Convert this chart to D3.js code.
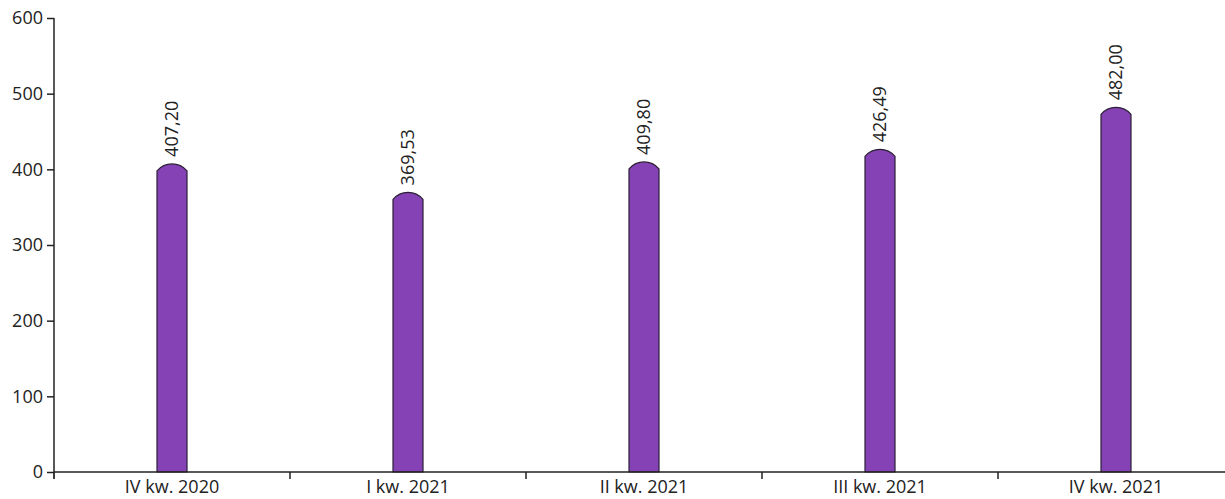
<!DOCTYPE html>
<html><head><meta charset="utf-8">
<script src="https://cdn.jsdelivr.net/npm/d3@7"></script>
<style>
body{margin:0;background:#fff;}
text{font-family:"Open Sans",sans-serif;fill:#222;}
</style></head>
<body><svg id="c" width="1225" height="499"></svg>
<script>
const categories = ["IV kw. 2020","I kw. 2021","II kw. 2021","III kw. 2021","IV kw. 2021"];
const values = [407.20, 369.53, 409.80, 426.49, 482.00];
const yTicks = [0,100,200,300,400,500,600];

const svg = d3.select("#c");
const x = d3.scaleBand().domain(categories).range([54, 1234]).padding(0);
const y = d3.scaleLinear().domain([0,600]).range([472, 18]);

const barW = 30, cap = 7;
const r = ((barW/2)**2 + cap*cap) / (2*cap);
const fmt = v => v.toFixed(2).replace(".", ",");

// bars
svg.append("g").selectAll("path").data(values).join("path")
  .attr("d", (v,i) => {
    const cx = x(categories[i]) + x.bandwidth()/2;
    const x0 = cx - barW/2, x1 = cx + barW/2;
    const top = y(v), side = top + cap, base = y(0);
    return `M${x0},${base}L${x0},${side}A${r},${r} 0 0 1 ${x1},${side}L${x1},${base}Z`;
  })
  .attr("fill","#8442b5").attr("stroke","#2b1f35").attr("stroke-width",1.2);

// labels
svg.append("g").selectAll("text").data(values).join("text")
  .attr("transform",(v,i)=>`translate(${x(categories[i]) + x.bandwidth()/2},${y(v)-7}) rotate(-90)`)
  .attr("dy","0.35em").attr("text-anchor","start")
  .style("font-size","18px").text(fmt);

// axes
const ya = svg.append("g").attr("transform","translate(54,0)")
  .call(d3.axisLeft(y).tickValues(yTicks).tickSize(7).tickPadding(4).tickFormat(d3.format("d")));
ya.selectAll("text").style("font-size","18px");
const xa = svg.append("g").attr("transform","translate(0,472)")
  .call(d3.axisBottom(x).tickSize(7).tickPadding(1));
xa.selectAll("text").style("font-size","18px");
// ticks at band boundaries
xa.selectAll(".tick line").attr("x1",-x.bandwidth()/2).attr("x2",-x.bandwidth()/2);
xa.append("line").attr("x1",54).attr("x2",54).attr("y1",0).attr("y2",7).attr("stroke","#222");
svg.selectAll(".domain").attr("stroke","#222").attr("stroke-width",1.5);
svg.selectAll(".tick line").attr("stroke","#222").attr("stroke-width",1.5);
xa.select(".domain").attr("d","M54,0H1234");
ya.select(".domain").attr("d","M0,18V472");
</script></body></html>
